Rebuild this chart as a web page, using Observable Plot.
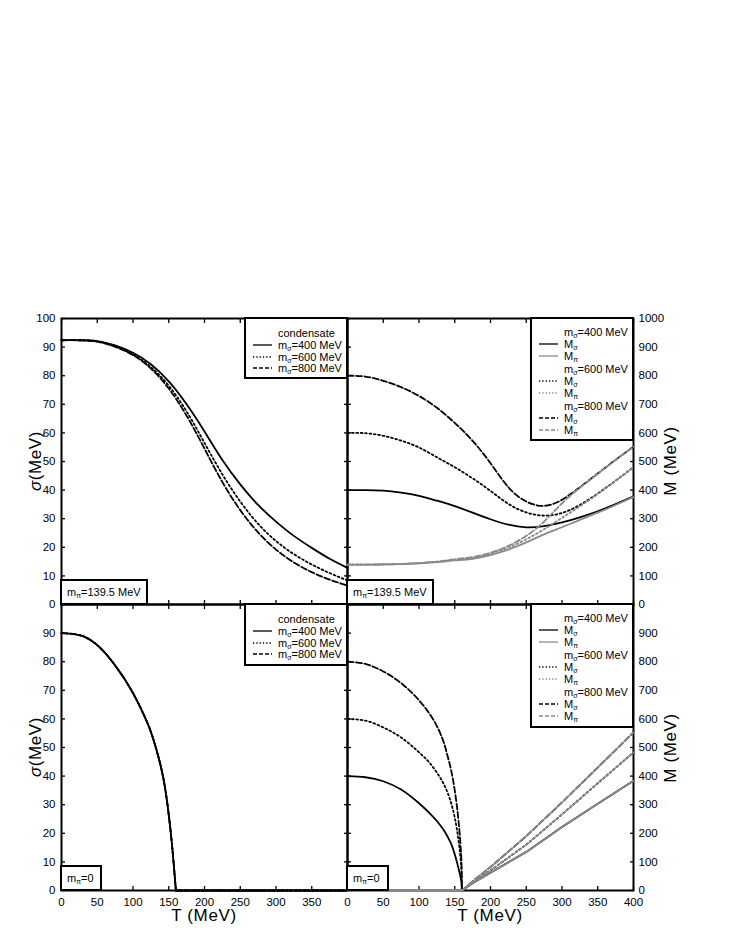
<!DOCTYPE html>
<html><head><meta charset="utf-8">
<script src="https://cdn.jsdelivr.net/npm/d3@7"></script>
<script src="https://cdn.jsdelivr.net/npm/@observablehq/plot@0.6"></script>
<style>
body{margin:0;background:#fff;}
#wrap{position:relative;width:736px;height:952px;background:#fff;font-family:"Liberation Sans",Arial,sans-serif;color:#000;overflow:hidden;}
.plot{position:absolute;}
.box{position:absolute;box-sizing:border-box;border:2px solid #000;background:#fff;font-size:11px;}
.row{position:absolute;left:0;height:12px;line-height:12px;white-space:nowrap;}
.row svg{position:absolute;top:3px;}
.row span{position:absolute;left:32px;top:0;}
sub{font-size:7px;vertical-align:-2px;line-height:0;}
.title{position:absolute;white-space:nowrap;font-size:17px;letter-spacing:0.6px;transform:translate(-50%,-50%);}
.rot{transform:translate(-50%,-50%) rotate(-90deg);}
.mpi{position:absolute;box-sizing:border-box;border:2px solid #000;background:#fff;font-size:11px;height:26px;line-height:22px;padding-left:5px;white-space:nowrap;}
</style></head><body><div id="wrap"></div>
<script>
// ---------------- data ----------------
// temperature grid (MeV), physical pion mass m_pi = 139.5 MeV
const T = [0,25,50,75,100,125,150,175,200,225,250,275,300,325,350,375,400];
// condensate sigma (MeV), m_pi = 139.5 MeV
const cond400 = [92.4,92.4,92.1,90.6,88.0,84.0,78.0,70.0,60.5,50.5,42.0,34.8,29.0,24.0,19.8,16.0,12.8];
const cond600 = [92.4,92.4,92.0,90.3,87.5,83.0,76.5,67.5,56.5,45.5,36.0,28.2,22.2,17.6,14.0,11.0,8.4];
const cond800 = [92.4,92.4,91.9,90.1,87.2,82.5,75.5,66.0,54.5,42.8,33.0,25.2,19.2,14.7,11.3,8.7,6.6];
// masses (MeV), m_pi = 139.5 MeV
const Msig400 = [400,400,398,391,380,363,344,321,298,279,270,274,287,305,326,351,378];
const Mpi400  = [139.5,139.5,140,141.5,144,148,154,160,173,192,217,245,270,296,321,348,376];
const Msig600 = [600,599,590,573,549,515,480,441,397,352,322,311,320,348,388,433,480];
const Mpi600  = [139.5,139.5,140,141.5,144.5,149,156,164,178,199,228,263,303,343,386,432,480];
const Msig800 = [800,797,782,760,729,688,635,572,494,410,360,345,366,410,458,506,552];
const Mpi800  = [139.5,139.5,140,141.5,145,150,158,166,181,205,240,290,354,408,457,505,552];

// chiral limit m_pi = 0
const T0 = [0,25,50,75,100,115,125,130,135,140,145,150,155,160,175,200,250,300,350,400];
const cond0 = [90,89.3,85.8,78.7,69,61.5,55.5,51.6,47.2,42.2,35.6,26.5,14.8,0,0,0,0,0,0,0];
const T0m = [0,25,50,75,100,115,125,130,135,140,145,150,155,158,159.5,160,175,200,250,300,350,400];
const Msig0_400 = [400,396,382,353,305,270,243,227,210,188,163,127,80,48,25,0,25,62,135,222,303,384];
const Mpi0_400  = [0,0,0,0,0,0,0,0,0,0,0,0,0,0,0,0,25,62,135,222,303,384];
const Msig0_600 = [600,594,570,535,483,446,412,393,370,342,305,255,180,115,62,0,27,70,160,266,375,483];
const Mpi0_600  = [0,0,0,0,0,0,0,0,0,0,0,0,0,0,0,0,27,70,160,266,375,483];
const Msig0_800 = [800,792,766,725,665,617,575,548,515,470,420,350,250,160,85,0,32,82,190,308,430,553];
const Mpi0_800  = [0,0,0,0,0,0,0,0,0,0,0,0,0,0,0,0,32,82,190,308,430,553];

// tick labels
const xTicksAll = [0,50,100,150,200,250,300,350,400];
const xLabelsLeft = [0,50,100,150,200,250,300,350];
const xLabelsRight = [0,50,100,150,200,250,300,350,400];
const sigTicks = [0,10,20,30,40,50,60,70,80,90,100];
const sigLabelsTop = [0,10,20,30,40,50,60,70,80,90,100];
const sigLabelsBottom = [0,10,20,30,40,50,60,70,80,90];
const mTicks = [0,100,200,300,400,500,600,700,800,900,1000];
const mLabelsTop = [0,100,200,300,400,500,600,700,800,900,1000];
const mLabelsBottom = [0,100,200,300,400,500,600,700,800,900];

// legend texts
const condLegend = ["condensate","m<sub>σ</sub>=400 MeV","m<sub>σ</sub>=600 MeV","m<sub>σ</sub>=800 MeV"];
const massLegend = ["m<sub>σ</sub>=400 MeV","M<sub>σ</sub>","M<sub>π</sub>","m<sub>σ</sub>=600 MeV","M<sub>σ</sub>","M<sub>π</sub>","m<sub>σ</sub>=800 MeV","M<sub>σ</sub>","M<sub>π</sub>"];

// ---------------- drawing ----------------
const FONT = '"Liberation Sans", Arial, sans-serif';
const GRAY = "#8a8a8a";
const DOT = "1.8 2.6", DASH = "6 2.5";
const S = 286, MG = 46;
const wrap = document.getElementById("wrap");

const rows = (xs, ys) => xs.map((t, i) => ({T: t, v: ys[i]}));
const line = (data, stroke, dash, curve = "natural") =>
  Plot.line(data, {x: "T", y: "v", stroke, strokeWidth: 1.8, strokeDasharray: dash, curve});

function panel(x0, y0, yMax, yTickVals, yLabels, ySide, xLabels, marks) {
  const chart = Plot.plot({
    width: S + 2 * MG, height: S + 2 * MG,
    marginLeft: MG, marginRight: MG, marginTop: MG, marginBottom: MG,
    x: {domain: [0, 400]},
    y: {domain: [0, yMax]},
    style: {fontFamily: FONT, fontSize: "11.5px", background: "transparent", overflow: "visible", color: "#000"},
    marks: [
      Plot.frame({stroke: "#000", strokeWidth: 2}),
      Plot.axisX(xTicksAll, {anchor: "top", tickSize: -4, fill: "none", strokeWidth: 1.3, label: null}),
      Plot.axisX(xTicksAll, {anchor: "bottom", tickSize: -4, fill: "none", strokeWidth: 1.3, label: null}),
      Plot.axisY(yTickVals, {anchor: "left", tickSize: -4, fill: "none", strokeWidth: 1.3, label: null}),
      Plot.axisY(yTickVals, {anchor: "right", tickSize: -4, fill: "none", strokeWidth: 1.3, label: null}),
      Plot.axisY(yLabels, {anchor: ySide, tickSize: 0, tickPadding: ySide === "left" ? 6 : 5, label: null, fontSize: 11.5, tickFormat: d => String(d)}),
      xLabels ? Plot.axisX(xLabels, {anchor: "bottom", tickSize: 0, tickPadding: 7, label: null, fontSize: 11.5, tickFormat: d => String(d)}) : null,
      ...marks
    ]
  });
  chart.classList.add("plot");
  chart.style.left = (x0 - MG) + "px";
  chart.style.top = (y0 - MG) + "px";
  wrap.appendChild(chart);
}

// split at T_c = 160 MeV so the kink stays sharp
const below = d => d.T <= 160, above = d => d.T >= 160;
const split = (xs, arr, stroke, dash) => [
  line(rows(xs, arr).filter(below), stroke, dash, "monotone-x"),
  line(rows(xs, arr).filter(above), stroke, dash, "linear")
];

// top-left: condensate, m_pi = 139.5
panel(61, 318, 100, sigTicks, sigLabelsTop, "left", null, [
  line(rows(T, cond800), "#000", DASH),
  line(rows(T, cond600), "#000", DOT),
  line(rows(T, cond400), "#000", null)
]);
// top-right: masses, m_pi = 139.5
panel(347, 318, 1000, mTicks, mLabelsTop, "right", null, [
  line(rows(T, Msig400), "#000", null),
  line(rows(T, Msig600), "#000", DOT),
  line(rows(T, Msig800), "#000", DASH),
  line(rows(T, Mpi400), GRAY, null),
  line(rows(T, Mpi600), GRAY, DOT),
  line(rows(T, Mpi800), GRAY, DASH)
]);
// bottom-left: condensate, m_pi = 0 (the three curves coincide)
panel(61, 604, 100, sigTicks, sigLabelsBottom, "left", xLabelsLeft, [
  ...split(T0, cond0, "#000", DASH),
  ...split(T0, cond0, "#000", DOT),
  ...split(T0, cond0, "#000", null)
]);
// bottom-right: masses, m_pi = 0
panel(347, 604, 1000, mTicks, mLabelsBottom, "right", xLabelsRight, [
  ...split(T0m, Msig0_400, "#000", null),
  ...split(T0m, Msig0_600, "#000", DOT),
  ...split(T0m, Msig0_800, "#000", DASH),
  ...split(T0m, Mpi0_400, GRAY, null),
  ...split(T0m, Mpi0_600, GRAY, DOT),
  ...split(T0m, Mpi0_800, GRAY, DASH)
]);

// ---------------- legends & labels ----------------
function sample(color, dash) {
  return `<svg width="20" height="6"><line x1="0" y1="3" x2="19" y2="3" stroke="${color}" stroke-width="1.3" ${dash ? `stroke-dasharray="${dash}"` : ""}/></svg>`;
}
function box(left, top, w, h, items, offsets) {
  const d = document.createElement("div");
  d.className = "box";
  Object.assign(d.style, {left: left + "px", top: top + "px", width: w + "px", height: h + "px"});
  d.innerHTML = items.map((it, i) =>
    `<div class="row" style="top:${offsets[i] - 6}px">${it.color ? `<span style="left:7px;top:0">${sample(it.color, it.dash)}</span>` : ""}<span>${it.text}</span></div>`
  ).join("");
  wrap.appendChild(d);
}
const condItems = [
  {text: condLegend[0]},
  {text: condLegend[1], color: "#000", dash: null},
  {text: condLegend[2], color: "#000", dash: "1.3 2"},
  {text: condLegend[3], color: "#000", dash: "4 2"}
];
const massItems = [
  {text: massLegend[0]},
  {text: massLegend[1], color: "#000", dash: null},
  {text: massLegend[2], color: GRAY, dash: null},
  {text: massLegend[3]},
  {text: massLegend[4], color: "#000", dash: "1.3 2"},
  {text: massLegend[5], color: GRAY, dash: "1.3 2"},
  {text: massLegend[6]},
  {text: massLegend[7], color: "#000", dash: "4 2"},
  {text: massLegend[8], color: GRAY, dash: "4 2"}
];
const condOff = [14, 26, 37.5, 49];
const massOff = [13, 25, 37, 50, 62, 74, 87, 99, 111];
box(244, 317, 104, 62, condItems, condOff);
box(244, 603, 104, 63, condItems, condOff);
box(530, 317, 104, 124, massItems, massOff);
box(530, 603, 104, 125, massItems, massOff);

function mpi(left, top, w, html) {
  const d = document.createElement("div");
  d.className = "mpi";
  Object.assign(d.style, {left: left + "px", top: top + "px", width: w + "px"});
  d.innerHTML = html;
  wrap.appendChild(d);
}
mpi(60, 579, 88, "m<sub>π</sub>=139.5 MeV");
mpi(346, 579, 88, "m<sub>π</sub>=139.5 MeV");
mpi(60, 865, 42, "m<sub>π</sub>=0");
mpi(346, 865, 43, "m<sub>π</sub>=0");

function title(x, y, html, rot) {
  const d = document.createElement("div");
  d.className = "title" + (rot ? " rot" : "");
  Object.assign(d.style, {left: x + "px", top: y + "px"});
  d.innerHTML = html;
  wrap.appendChild(d);
}
title(36, 461, "<i>σ</i>(MeV)", true);
title(36, 747, "<i>σ</i>(MeV)", true);
title(671, 461, "M (MeV)", true);
title(671, 748, "M (MeV)", true);
title(204, 916, "T (MeV)", false);
title(490, 916, "T (MeV)", false);
</script>
</body></html>
